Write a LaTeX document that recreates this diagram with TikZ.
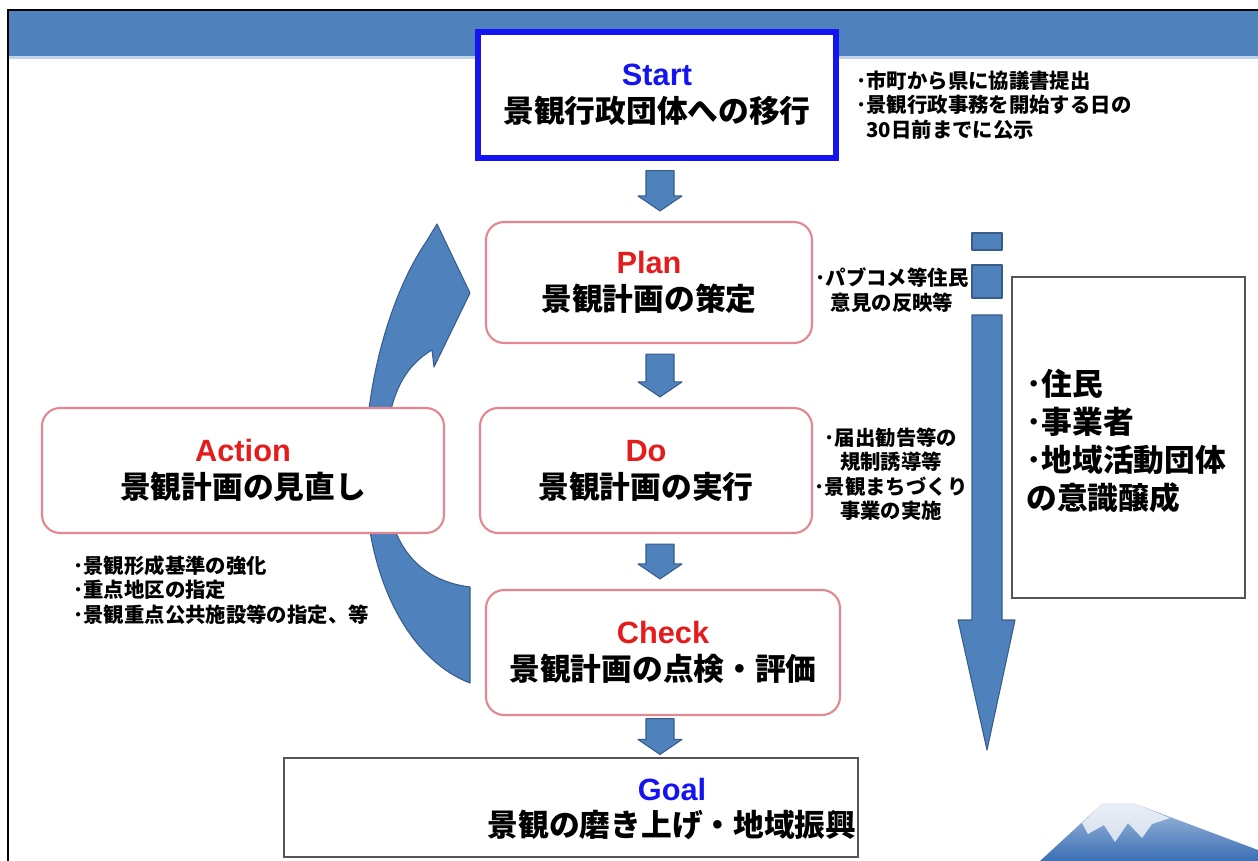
\documentclass[tikz,border=0pt]{standalone}
\usepackage{fontspec}
\setmainfont{Noto Sans CJK JP}
\newfontfamily\lat{Liberation Sans}
\usetikzlibrary{calc}
\definecolor{headblue}{RGB}{79,129,189}
\definecolor{arrowblue}{RGB}{79,129,189}
\definecolor{arrowedge}{RGB}{56,93,138}
\definecolor{startblue}{RGB}{20,20,240}
\definecolor{titlered}{RGB}{228,28,28}
\definecolor{pinkedge}{RGB}{228,135,145}
\definecolor{greyedge}{RGB}{85,85,85}
\definecolor{fujiblue}{RGB}{58,110,180}

\newcommand\bigjp{\fontsize{17.5}{21}\selectfont\bfseries}
\newcommand\smalljp{\fontsize{11.6}{13.9}\selectfont\bfseries}

\tikzset{
  stagebox/.style={draw=pinkedge, line width=1.2pt, rounded corners=0.36cm, fill=white,
    align=center, font=\bigjp, inner sep=0pt},
  plainbox/.style={draw=greyedge, line width=1.2pt, fill=white, inner sep=0pt},
  boxtext/.style={align=center, font=\bigjp, inner sep=0pt},
  note/.style={font=\smalljp, inner sep=0pt},
  blockarrow/.style={fill=arrowblue, draw=arrowedge, line width=0.6pt, line join=round}
}

% down arrow between two stages, #3 = gap to the boxes
\newcommand\stagearrow[3]{%
  \path[blockarrow] let \p1=(#1.south -| arrx), \p2=(#2.north -| arrx) in
    (\x1-0.28cm,\y1-#3) -- (\x1+0.28cm,\y1-#3)
    -- (\x1+0.28cm,\y2+#3+0.3cm) -- (\x1+0.44cm,\y2+#3+0.3cm) -- (\x1,\y2+#3)
    -- (\x1-0.44cm,\y2+#3+0.3cm) -- (\x1-0.28cm,\y2+#3+0.3cm) -- cycle;}

\begin{document}
\begin{tikzpicture}[x=0.02cm, y=-0.02cm]
\useasboundingbox (0,0) rectangle (1258,861);
\fill[white] (0,0) rectangle (1258,861);

% header band and frame
\fill[headblue] (8,10) rectangle (1258,56);
\fill[headblue!35] (8,56) rectangle (1258,59);
\draw[line width=1.5pt] (8,861) -- (8,10) -- (1258,10);

% Mt. Fuji in the corner
\begin{scope}
\clip (0,0) rectangle (1258,861);
\shade[top color=fujiblue!45, bottom color=fujiblue] (1040,861) -- (1103,803) -- (1133,803) -- (1258,850) -- (1258,861) -- cycle;
\fill[white, opacity=0.75] (1103,803) -- (1133,803) -- (1170,818) -- (1152,824) -- (1142,838) -- (1128,823) -- (1115,842) -- (1104,825) -- (1088,834) -- (1082,823) -- cycle;
\end{scope}

% curved arrow from Check back to Plan
\path[blockarrow] (470,587) .. controls (415,580) and (385,540) .. (385,470)
  .. controls (385,400) and (402,368) .. (432,350)
  -- (434,367) -- (470,293) -- (437,224) -- (426,242)
  .. controls (392,292) and (365,380) .. (365,470)
  .. controls (365,580) and (410,660) .. (470,683) -- cycle;

% stages
\node[draw=startblue, line width=3pt, fill=white, minimum width=7.16cm, minimum height=2.52cm,
  align=center, font=\bigjp, inner sep=0pt] (start) at (657,95)
  {\textcolor{startblue}{\lat Start}\\景観行政団体への移行};
\node[stagebox, minimum width=6.52cm, minimum height=2.42cm] (plan) at (649,282.5)
  {\textcolor{titlered}{\lat Plan}\\景観計画の策定};
\node[stagebox, minimum width=6.64cm, minimum height=2.5cm] (do) at (646,470.5)
  {\textcolor{titlered}{\lat Do}\\景観計画の実行};
\node[stagebox, minimum width=7.08cm, minimum height=2.5cm] (check) at (663,652.5)
  {\textcolor{titlered}{\lat Check}\\景観計画の点検・評価};
\node[stagebox, minimum width=8.04cm, minimum height=2.5cm] (action) at (243,470.5)
  {\textcolor{titlered}{\lat Action}\\景観計画の見直し};
\node[plainbox, minimum width=11.48cm, minimum height=1.98cm] (goal) at (571,807.5) {};
\node[boxtext] (goaltext) at (672,809) {\textcolor{startblue}{\lat Goal}\\景観の磨き上げ・地域振興};

\coordinate (arrx) at (660,0);
\stagearrow{start}{plan}{0.2cm}
\stagearrow{plan}{do}{0.2cm}
\stagearrow{do}{check}{0.2cm}
\stagearrow{check}{goal}{0.05cm}

% notes beside the stages
\node[note, anchor=west, align=left] (startnote) at (856,105)
  {･市町から県に協議書提出\\･景観行政事務を開始する日の\\\phantom{･}30日前までに公示};
\node[note, align=center] (plannote) at (892,290) {･パブコメ等住民\\意見の反映等};
\node[note, align=center] (donote) at (891,474)
  {･届出勧告等の\\規制誘導等\\･景観まちづくり\\事業の実施};
\node[note, anchor=west, align=left] (actionnote) at (73,590)
  {･景観形成基準の強化\\･重点地区の指定\\･景観重点公共施設等の指定、等};

% striped arrow on the right
\path[blockarrow] (972,233) rectangle (1002,250);
\path[blockarrow] (972,265) rectangle (1002,298);
\path[blockarrow] (972,315) -- (1002,315) -- (1002,620) -- (1015,620) -- (987,750)
  -- (958,620) -- (972,620) -- cycle;

\node[plainbox, minimum width=4.66cm, minimum height=6.42cm] (people) at (1128.5,437.5) {};
\node[boxtext, align=left, font=\fontsize{17.5}{21.5}\selectfont\bfseries, anchor=west] (peopletext) at (1026,441)
  {･住民\\･事業者\\･地域活動団体\\の意識醸成};
\end{tikzpicture}
\end{document}
